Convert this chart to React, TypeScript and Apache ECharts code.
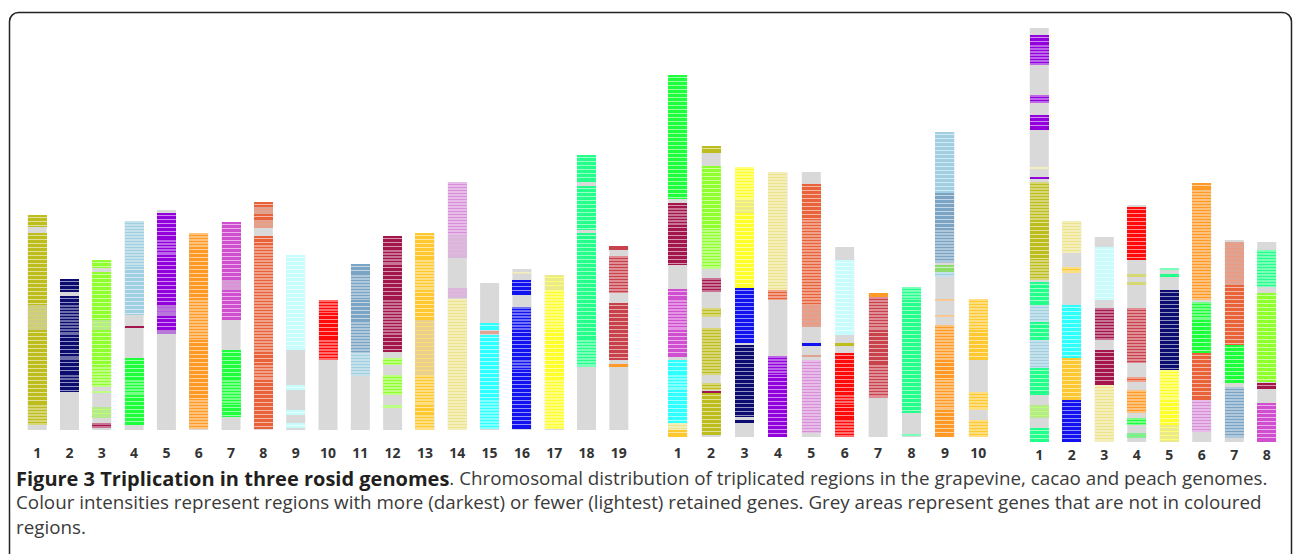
import React, { useEffect, useRef } from "react";
import * as echarts from "echarts";

// Colour keys used by the triplicated-region blocks
const COLOR_KEYS = ["ol", "nv", "lg", "lb", "gr", "pu", "or", "mg", "tm", "lc", "rd", "sb", "mr", "gd", "pl", "kh", "cy", "bl", "ye", "sg", "fb", "lgr"];
const COLOR_HEX = ["#bdbd1e", "#0c0c70", "#8fff2e", "#9fcfe0", "#1eff3c", "#9200dc", "#ff9a26", "#d04fd0", "#e8623a", "#c8fcfc", "#ff0a0a", "#7ba3c3", "#a3164c", "#fdc830", "#d98fd8", "#ece38c", "#2effff", "#1212f0", "#ffff2a", "#22ff8a", "#c8424c", "#8edc6c"];
const GREY = "#d9d9d9";

// segment: [start, end (offset from chromosome top), colour key, intensity 1=darkest..3=lightest]
type Seg = [number, number, string, number];

// ---------- Grapevine ----------
const grapeLabels = ["1", "2", "3", "4", "5", "6", "7", "8", "9", "10", "11", "12", "13", "14", "15", "16", "17", "18", "19"];
const grapeLengths = [215, 151, 170, 209, 220, 197, 208, 228, 175, 130, 166, 194, 197, 248, 147, 161, 155, 275, 184];
const grapeSegments: Seg[][] = [
  [[0, 12, "ol", 1], [18, 90, "ol", 1], [90, 115, "ol", 3], [115, 190, "ol", 1], [190, 210, "ol", 2]],
  [[0, 13, "nv", 1], [17, 26, "nv", 1], [26, 56, "nv", 2], [56, 77, "nv", 1], [77, 81, "nv", 2], [81, 96, "nv", 1], [96, 101, "nv", 2], [101, 113, "nv", 1]],
  [[0, 8, "lg", 1], [12, 60, "lg", 1], [60, 70, "lg", 3], [70, 107, "lg", 1], [107, 127, "lg", 2], [131, 133, "lg", 2], [147, 158, "lg", 3], [163, 168, "mr", 2]],
  [[0, 46, "lb", 2], [46, 94, "lb", 1], [105, 107, "mr", 1], [137, 159, "gr", 1], [159, 174, "gr", 2], [174, 204, "gr", 1]],
  [[3, 30, "pu", 1], [30, 45, "pu", 2], [45, 95, "pu", 1], [95, 106, "pu", 3], [106, 120, "pu", 1], [120, 124, "pu", 3]],
  [[0, 14, "or", 2], [14, 67, "or", 1], [67, 107, "or", 2], [107, 167, "or", 1], [167, 196, "or", 2]],
  [[0, 58, "mg", 1], [58, 68, "mg", 3], [68, 98, "mg", 1], [128, 158, "gr", 1], [158, 183, "gr", 2], [183, 195, "gr", 1]],
  [[0, 5, "tm", 1], [5, 12, "tm", 3], [12, 18, "tm", 1], [18, 26, "tm", 3], [34, 43, "tm", 1], [43, 150, "tm", 2], [150, 163, "tm", 1], [163, 178, "tm", 2], [178, 227, "tm", 1]],
  [[0, 95, "lc", 1], [130, 135, "lc", 1], [155, 160, "lc", 1], [168, 173, "lc", 1]],
  [[0, 13, "rd", 2], [13, 40, "rd", 1], [40, 60, "rd", 2]],
  [[0, 11, "sb", 1], [11, 36, "sb", 2], [36, 58, "sb", 1], [58, 89, "sb", 2], [89, 112, "lb", 2]],
  [[0, 14, "mr", 1], [14, 29, "mr", 2], [29, 64, "mr", 1], [64, 99, "mr", 2], [99, 116, "mr", 1], [122, 129, "lg", 2], [139, 159, "lg", 2], [169, 172, "lg", 2]],
  [[0, 27, "gd", 1], [27, 57, "gd", 2], [57, 87, "gd", 1], [87, 142, "gd", 3], [142, 172, "gd", 2], [172, 182, "gd", 1], [182, 197, "gd", 2]],
  [[0, 53, "pl", 2], [53, 76, "pl", 3], [106, 116, "pl", 3], [117, 248, "kh", 2]],
  [[40, 47, "cy", 1], [48, 51, "tm", 3], [52, 117, "cy", 1], [117, 146, "cy", 2]],
  [[3, 4, "kh", 2], [11, 26, "bl", 1], [38, 61, "bl", 2], [61, 91, "bl", 1], [91, 101, "bl", 2], [101, 160, "bl", 1]],
  [[0, 15, "ye", 3], [15, 55, "ye", 2], [55, 105, "ye", 1], [105, 154, "ye", 2]],
  [[0, 27, "sg", 1], [31, 75, "sg", 1], [78, 185, "sg", 1], [185, 212, "sg", 2]],
  [[0, 4, "fb", 1], [10, 47, "fb", 2], [57, 114, "fb", 1], [118, 121, "or", 1]],
];

// ---------- Cacao ----------
const cacaoLabels = ["1", "2", "3", "4", "5", "6", "7", "8", "9", "10"];
const cacaoLengths = [362, 291, 270, 265, 265, 190, 144, 150, 305, 138];
const cacaoSegments: Seg[][] = [
  [[0, 124, "gr", 1], [128, 133, "mr", 1], [133, 150, "mr", 2], [150, 190, "mr", 1], [214, 225, "mg", 1], [225, 255, "mg", 2], [255, 282, "mg", 1], [285, 300, "cy", 1], [300, 315, "cy", 2], [315, 348, "cy", 1], [348, 355, "kh", 2], [355, 362, "gd", 1]],
  [[0, 7, "ol", 1], [20, 84, "lg", 1], [84, 123, "lg", 2], [132, 146, "mr", 2], [162, 171, "ol", 2], [182, 229, "ol", 2], [237, 244, "ol", 2], [245, 247, "mr", 1], [247, 289, "ol", 1]],
  [[0, 33, "ye", 2], [33, 46, "ye", 3], [46, 121, "ye", 1], [121, 176, "bl", 1], [178, 250, "nv", 1], [253, 256, "nv", 1]],
  [[0, 118, "kh", 2], [118, 128, "tm", 2], [184, 203, "pu", 2], [203, 265, "pu", 1]],
  [[12, 48, "tm", 1], [48, 133, "tm", 2], [133, 155, "tm", 3], [171, 174, "bl", 1], [183, 185, "tm", 3], [188, 261, "pl", 2]],
  [[13, 88, "lc", 1], [96, 99, "ol", 1], [106, 148, "rd", 1], [148, 158, "rd", 2], [158, 173, "rd", 1], [173, 190, "rd", 2]],
  [[0, 4, "or", 1], [4, 37, "fb", 2], [37, 72, "fb", 1], [72, 105, "fb", 2]],
  [[0, 13, "sg", 2], [13, 126, "sg", 1], [147, 149, "sg", 2]],
  [[0, 61, "lb", 1], [61, 98, "sb", 1], [98, 131, "sb", 2], [133, 140, "lgr", 1], [140, 145, "lb", 2], [167, 168, "or", 2], [183, 184, "or", 2], [193, 228, "or", 2], [228, 248, "or", 1], [248, 278, "or", 2], [278, 305, "or", 1]],
  [[0, 31, "gd", 2], [31, 61, "gd", 1], [93, 111, "gd", 2], [121, 138, "gd", 2]],
];

// ---------- Peach ----------
const peachLabels = ["1", "2", "3", "4", "5", "6", "7", "8"];
const peachLengths = [414, 221, 205, 237, 174, 259, 202, 200];
const peachSegments: Seg[][] = [
  [[7, 17, "pu", 1], [17, 37, "pu", 2], [67, 75, "pu", 2], [87, 102, "pu", 1], [139, 141, "kh", 2], [149, 151, "pu", 1], [154, 192, "ol", 2], [192, 232, "ol", 1], [232, 252, "ol", 2], [254, 277, "sg", 1], [277, 294, "lb", 2], [294, 312, "sg", 1], [312, 340, "lb", 2], [340, 367, "sg", 1], [377, 390, "lg", 3], [400, 414, "sg", 1]],
  [[0, 32, "kh", 2], [46, 52, "gd", 2], [84, 137, "cy", 1], [137, 179, "gd", 1], [179, 221, "bl", 1]],
  [[10, 63, "lc", 1], [71, 103, "mr", 2], [113, 148, "mr", 1], [148, 205, "kh", 2]],
  [[2, 55, "rd", 1], [69, 72, "ol", 2], [77, 80, "ol", 2], [103, 158, "fb", 2], [172, 177, "tm", 2], [185, 208, "or", 2], [213, 220, "gr", 2], [228, 233, "gr", 3]],
  [[0, 2, "sg", 2], [6, 9, "sg", 1], [22, 102, "nv", 1], [102, 132, "ye", 2], [132, 157, "ye", 1], [157, 174, "ye", 3]],
  [[0, 7, "or", 1], [7, 117, "or", 2], [119, 137, "gr", 2], [137, 170, "gr", 1], [170, 217, "tm", 1], [217, 249, "pl", 2]],
  [[2, 45, "tm", 3], [45, 105, "tm", 1], [105, 143, "gr", 1], [147, 198, "sb", 2]],
  [[8, 45, "sg", 2], [51, 140, "lg", 1], [141, 147, "mr", 1], [161, 200, "mg", 1]],
];

const captionBold = "Figure 3 Triplication in three rosid genomes";
const captionLine1 = ". Chromosomal distribution of triplicated regions in the grapevine, cacao and peach genomes.";
const captionLine2 = "Colour intensities represent regions with more (darkest) or fewer (lightest) retained genes. Grey areas represent genes that are not in coloured";
const captionLine3 = "regions.";

function hexToRgb(h: string) {
  const n = parseInt(h.slice(1), 16);
  return [(n >> 16) & 255, (n >> 8) & 255, n & 255];
}
function mix(a: string, b: string, t: number) {
  const A = hexToRgb(a), B = hexToRgb(b);
  const c = A.map((v, i) => Math.round(v * (1 - t) + B[i] * t));
  return `rgb(${c[0]},${c[1]},${c[2]})`;
}

function segData(lengths: number[], segs: Seg[][]) {
  const out: number[][] = [];
  segs.forEach((list, i) => {
    list.forEach(([s, e, key, lvl]) => {
      out.push([i, s, e, COLOR_KEYS.indexOf(key), lvl, lengths[i]]);
    });
  });
  return out;
}

const BAR_W = 19;

function renderSeg(params: any, api: any) {
  const cat = api.value(0);
  const s = api.value(1);
  const e = api.value(2);
  const ci = api.value(3);
  const lvl = api.value(4);
  const len = api.value(5);
  const p1 = api.coord([cat, len - s]);
  const p2 = api.coord([cat, len - e]);
  const x = Math.round(p1[0] - BAR_W / 2);
  const y = p1[1];
  const h = Math.max(1.5, p2[1] - p1[1]);
  const col = COLOR_HEX[ci];
  let base: string, stripe: string, step: number;
  if (lvl === 1) {
    base = col;
    stripe = mix(col, "#ffffff", 0.55);
    step = 4;
  } else if (lvl === 2) {
    base = mix(col, "#ffffff", 0.4);
    stripe = col;
    step = 3;
  } else {
    base = mix(col, GREY, 0.55);
    stripe = mix(col, "#ffffff", 0.35);
    step = 4;
  }
  const children: any[] = [
    { type: "rect", shape: { x, y, width: BAR_W, height: h }, style: { fill: base } },
  ];
  if (h > 4) {
    for (let yy = Math.round(y) + 2; yy < y + h - 1; yy += step) {
      children.push({ type: "rect", shape: { x, y: yy, width: BAR_W, height: 1 }, style: { fill: stripe } });
    }
  }
  return { type: "group", children };
}

const LABEL_FONT = "'Noto Sans', 'DejaVu Sans', sans-serif";

function genome(idx: number, labels: string[], lengths: number[], segs: Seg[][], margin: number) {
  const xAxis = {
    type: "category",
    gridIndex: idx,
    data: labels,
    axisLine: { show: false },
    axisTick: { show: false },
    axisLabel: { margin, fontSize: 14, fontWeight: "bold", color: "#333", fontFamily: LABEL_FONT },
  };
  const yAxis = { type: "value", gridIndex: idx, min: 0, max: [300, 400, 420][idx], show: false };
  const series = [
    {
      type: "bar",
      xAxisIndex: idx,
      yAxisIndex: idx,
      data: lengths,
      barWidth: BAR_W,
      itemStyle: { color: GREY },
      silent: true,
      z: 1,
    },
    {
      type: "custom",
      xAxisIndex: idx,
      yAxisIndex: idx,
      data: segData(lengths, segs),
      encode: { x: 0, y: 1 },
      renderItem: renderSeg,
      silent: true,
      z: 2,
    },
  ];
  return { xAxis, yAxis, series };
}

const CAP_FONT = "'Open Sans', sans-serif";

export default function App() {
  const ref = useRef<HTMLDivElement>(null);
  useEffect(() => {
    document.body.style.margin = "0";
    if (!ref.current) return;
    const chart = echarts.init(ref.current, undefined, { renderer: "svg" });
    const g = genome(0, grapeLabels, grapeLengths, grapeSegments, 15);
    const c = genome(1, cacaoLabels, cacaoLengths, cacaoSegments, 8);
    const p = genome(2, peachLabels, peachLengths, peachSegments, 5);
    chart.setOption({
      animation: false,
      backgroundColor: "#ffffff",
      grid: [
        { left: 21, width: 614, top: 130, height: 300 },
        { left: 661, width: 334, top: 37, height: 400 },
        { left: 1023, width: 260, top: 22, height: 420 },
      ],
      xAxis: [g.xAxis, c.xAxis, p.xAxis],
      yAxis: [g.yAxis, c.yAxis, p.yAxis],
      series: [...g.series, ...c.series, ...p.series],
      graphic: [
        {
          type: "rect",
          shape: { x: 9.5, y: 12.5, width: 1282, height: 700, r: 9 },
          style: { fill: "none", stroke: "#222", lineWidth: 1.5 },
          silent: true,
        },
        {
          type: "text",
          left: 16,
          top: 468,
          style: {
            text: `{b|${captionBold}}{r|${captionLine1}}`,
            rich: {
              b: { fontFamily: CAP_FONT, fontWeight: "bold", fontSize: 20, fill: "#231f20", lineHeight: 22 },
              r: { fontFamily: CAP_FONT, fontWeight: "normal", fontSize: 18.8, fill: "#3a3a3a", lineHeight: 22 },
            },
          },
        },
        {
          type: "text",
          left: 16,
          top: 491,
          style: { text: captionLine2, fontFamily: CAP_FONT, fontSize: 18.8, fill: "#3a3a3a", lineHeight: 22 },
        },
        {
          type: "text",
          left: 16,
          top: 516,
          style: { text: captionLine3, fontFamily: CAP_FONT, fontSize: 18.8, fill: "#3a3a3a", lineHeight: 22 },
        },
      ],
    });
    return () => chart.dispose();
  }, []);
  return <div ref={ref} style={{ width: 1293, height: 554 }} />;
}
